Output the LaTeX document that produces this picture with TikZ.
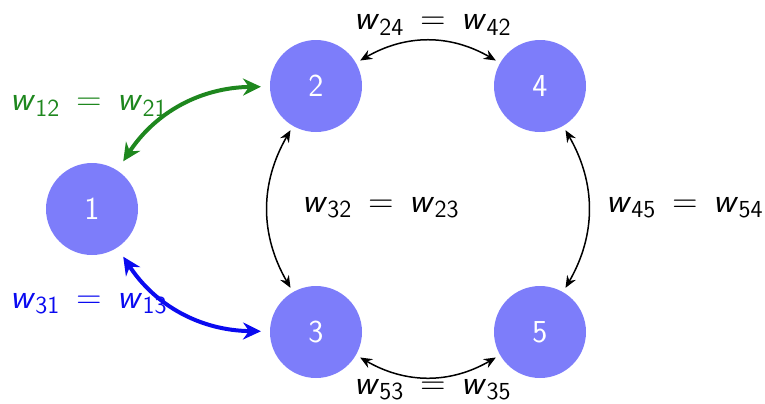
\documentclass[tikz,border=0pt]{standalone}
\usetikzlibrary{arrows.meta}
\definecolor{nodefill}{RGB}{125,125,250}
\definecolor{linkgreen}{RGB}{30,135,30}
\definecolor{linkblue}{RGB}{10,10,240}
\newcommand{\wpair}[4]{\textsl{w}\textsubscript{#1#2}\hspace{0.45em}=\hspace{0.45em}\textsl{w}\textsubscript{#3#4}}
\begin{document}
\begin{tikzpicture}[x=0.5pt,y=-0.5pt,
  state/.style={circle,fill=nodefill,draw=none,minimum size=46pt,inner sep=0pt,
    text=white,font=\sffamily\fontsize{16}{19}\selectfont,outer sep=2.5pt},
  thinlink/.style={{Stealth[length=6pt,width=5pt,inset=2pt]}-{Stealth[length=6pt,width=5pt,inset=2pt]},line width=0.75pt,black},
  thicklink/.style={{Stealth[length=9pt,width=8.5pt,inset=3pt]}-{Stealth[length=9pt,width=8.5pt,inset=3pt]},line width=2pt,shorten <=3pt,shorten >=2pt},
  lab/.style={font=\sffamily\fontsize{17.5}{20}\selectfont,inner sep=0pt}]
\useasboundingbox (0,0) rectangle (765,403);
\node[state] (n1) at (92,209) {1};
\node[state] (n2) at (316,86) {2};
\node[state] (n4) at (540,86) {4};
\node[state] (n3) at (316,332) {3};
\node[state] (n5) at (540,332) {5};

\draw[thinlink] (n2) to[bend left=30] (n4);
\draw[thinlink] (n3) to[bend right=30] (n5);
\draw[thinlink] (n2) to[bend right=30] (n3);
\draw[thinlink] (n4) to[bend left=30] (n5);
\draw[thicklink,linkgreen] (n1) to[bend left=28] (n2);
\draw[thicklink,linkblue] (n1) to[bend right=28] (n3);

\node[lab] (l24) at (433,25) {\wpair 2442};
\node[lab] (l53) at (433,390) {\wpair 5335};
\node[lab] (l32) at (381,208) {\wpair 3223};
\node[lab] (l45) at (685,208) {\wpair 4554};
\node[lab,text=linkgreen] (l12) at (89,106) {\wpair 1221};
\node[lab,text=linkblue] (l31) at (89,304) {\wpair 3113};
\end{tikzpicture}
\end{document}
